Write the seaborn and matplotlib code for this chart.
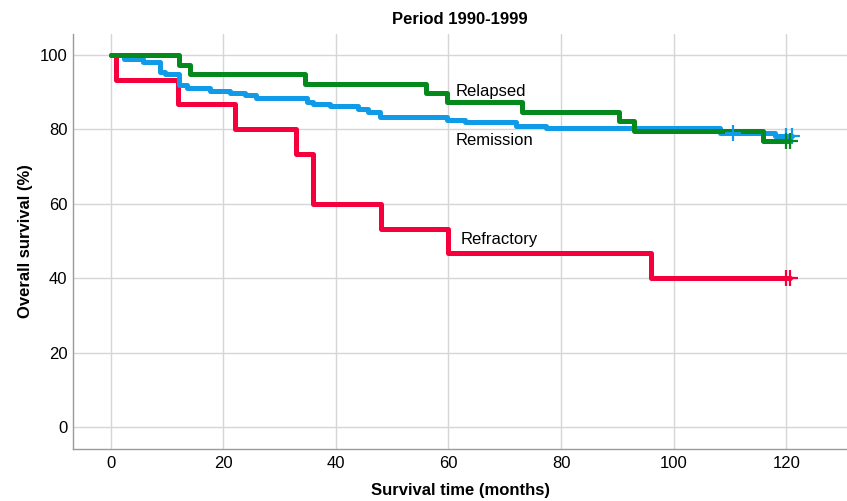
import matplotlib
matplotlib.use("Agg")
import matplotlib.pyplot as plt
import seaborn as sns
import pandas as pd

# --- data -------------------------------------------------------------
groups = ["Refractory", "Remission", "Relapsed"]

refractory_t = [0, 1, 12, 22, 33, 36, 48, 60, 96, 120.7]
refractory_s = [100, 93.3, 86.7, 80.0, 73.3, 60.0, 53.3, 46.7, 40.0, 40.0]
refractory_cens_t = [120, 120.7]
refractory_cens_s = [40.0, 40.0]

remission_t = [0, 2.4, 5.7, 8.8, 9.6, 12.1, 13.6, 17.6, 21.2, 23.9, 25.8, 34.9,
               35.9, 39.0, 43.9, 45.7, 47.8, 59.8, 62.9, 72.0, 77.3, 108.3, 118.0, 121]
remission_s = [100, 98.9, 98.1, 95.4, 94.8, 91.9, 91.2, 90.4, 89.8, 89.2, 88.3, 87.4,
               86.8, 86.3, 85.5, 84.7, 83.3, 82.6, 81.9, 81.0, 80.3, 79.0, 78.3, 78.3]
remission_cens_t = [110.6, 120, 121]
remission_cens_s = [79.0, 78.3, 78.3]

relapsed_t = [0, 12.1, 14.1, 34.5, 56.0, 59.8, 73.1, 90.3, 93.0, 115.9, 120.7]
relapsed_s = [100, 97.4, 94.9, 92.3, 89.7, 87.2, 84.6, 82.1, 79.5, 76.9, 76.9]
relapsed_cens_t = [120, 120.7]
relapsed_cens_s = [76.9, 76.9]

colors = {"Refractory": "#f5003c", "Remission": "#0f9be8", "Relapsed": "#05891c"}

curves = pd.concat([
    pd.DataFrame({"group": "Refractory", "time": refractory_t, "surv": refractory_s}),
    pd.DataFrame({"group": "Remission", "time": remission_t, "surv": remission_s}),
    pd.DataFrame({"group": "Relapsed", "time": relapsed_t, "surv": relapsed_s}),
], ignore_index=True)
cens = pd.concat([
    pd.DataFrame({"group": "Refractory", "time": refractory_cens_t, "surv": refractory_cens_s}),
    pd.DataFrame({"group": "Remission", "time": remission_cens_t, "surv": remission_cens_s}),
    pd.DataFrame({"group": "Relapsed", "time": relapsed_cens_t, "surv": relapsed_cens_s}),
], ignore_index=True)

# --- plot -------------------------------------------------------------
sns.set_style("white")
plt.rcParams["font.family"] = ["Liberation Sans", "DejaVu Sans"]
plt.rcParams["text.color"] = "black"
plt.rcParams["axes.labelcolor"] = "black"
plt.rcParams["xtick.color"] = "black"
plt.rcParams["ytick.color"] = "black"

fig = plt.figure(figsize=(8.47, 5.01), dpi=100)
ax = fig.add_axes([73 / 847, 1 - 449 / 501, 1 - 73 / 847, (449 - 34) / 501])

for g in groups:
    sub = curves[curves.group == g]
    sns.lineplot(data=sub, x="time", y="surv", ax=ax, color=colors[g],
                 drawstyle="steps-post", linewidth=3.6, estimator=None,
                 sort=False, legend=False, zorder=3)
    cs = cens[cens.group == g]
    sns.scatterplot(data=cs, x="time", y="surv", ax=ax, color=colors[g],
                    marker="+", s=130, linewidth=1.6, legend=False, zorder=4)

ax.set_xlim(-6.7, 130.8)
ax.set_ylim(-5.9, 105.6)
ax.set_xticks([0, 20, 40, 60, 80, 100, 120])
ax.set_yticks([0, 20, 40, 60, 80, 100])
ax.grid(True, color="#d6d6d6", linewidth=1.0)
ax.set_axisbelow(True)
ax.tick_params(axis="both", length=0, labelsize=12)
ax.tick_params(axis="y", pad=4)
ax.tick_params(axis="x", pad=5)
for side in ["top", "right"]:
    ax.spines[side].set_visible(False)
for side in ["left", "bottom"]:
    ax.spines[side].set_color("#9a9a9a")
    ax.spines[side].set_linewidth(1.0)

ax.set_xlabel("Survival time (months)", fontsize=12, fontweight="bold", labelpad=9)
ax.set_ylabel("Overall survival (%)", fontsize=12, fontweight="bold", labelpad=5)
ax.set_title("Period 1990-1999", fontsize=12, fontweight="bold", pad=7)

ax.text(61.3, 90.2, "Relapsed", fontsize=12, ha="left", va="center")
ax.text(61.3, 77.0, "Remission", fontsize=12, ha="left", va="center")
ax.text(62.2, 50.5, "Refractory", fontsize=12, ha="left", va="center")

fig.savefig("out.png", dpi=100)
